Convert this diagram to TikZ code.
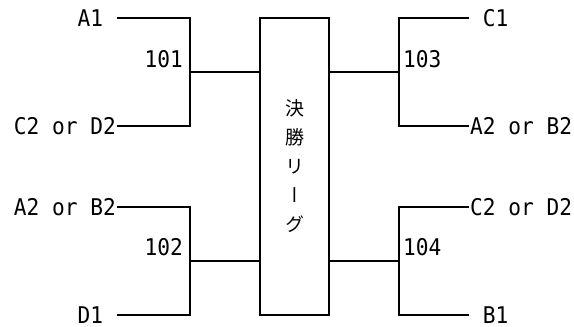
\documentclass[tikz,border=0pt]{standalone}
\usepackage{fontspec}
\newfontfamily\gothicmono[FakeStretch=0.92]{DejaVu Sans Mono}
\newfontfamily\gothicjp[RawFeature=+vert]{Noto Sans CJK JP}
\usetikzlibrary{positioning}
\begin{document}
\begin{tikzpicture}[x=1pt,y=-1pt]
    \tikzstyle{every node} = [font=\gothicmono\fontsize{23}{23}\selectfont]
    \tikzstyle{team} = [inner sep=1pt]
    \tikzstyle{match} = [inner sep=0pt]
    \tikzstyle{league} = [draw, line width=2pt, minimum width=69pt, minimum height=297pt, inner sep=0pt, align=center, font=\gothicjp\fontsize{19}{29}\selectfont]
    \tikzstyle{wire} = [line width=2pt]
    \useasboundingbox (0,0) rectangle (574,327);

    % place nodes
    \node[league] (final) at (294.5,166.5) {決\\勝\\リ\\ー\\グ};

    \coordinate (j101) at (190,72);
    \coordinate (j102) at (190,261);
    \coordinate (j103) at (399,72);
    \coordinate (j104) at (399,261);

    \node[team,anchor=east] (a1) at (117,18) {A1\hphantom{0}};
    \node[team,anchor=east] (c2d2l) at (117,126) {C2 or D2};
    \node[team,anchor=east] (a2b2l) at (117,207) {A2 or B2};
    \node[team,anchor=east] (d1) at (117,315) {D1\hphantom{0}};

    \node[team,anchor=west] (c1) at (469,18) {\hphantom{0}C1};
    \node[team,anchor=west] (a2b2r) at (469,126) {A2 or B2};
    \node[team,anchor=west] (c2d2r) at (469,207) {C2 or D2};
    \node[team,anchor=west] (b1) at (469,315) {\hphantom{0}B1};

    \node[match,above left=4pt and 7pt of j101] (m101) {101};
    \node[match,above left=5pt and 7pt of j102] (m102) {102};
    \node[match,above right=4pt and 4pt of j103] (m103) {103};
    \node[match,above right=5pt and 4pt of j104] (m104) {104};

    % Connections
    \draw[wire] (a1.east) -- (a1 -| j101) -- (c2d2l -| j101) -- (c2d2l.east);
    \draw[wire] (j101) -- (j101 -| final.west);
    \draw[wire] (a2b2l.east) -- (a2b2l -| j102) -- (d1 -| j102) -- (d1.east);
    \draw[wire] (j102) -- (j102 -| final.west);

    \draw[wire] (c1.west) -- (c1 -| j103) -- (a2b2r -| j103) -- (a2b2r.west);
    \draw[wire] (j103) -- (j103 -| final.east);
    \draw[wire] (c2d2r.west) -- (c2d2r -| j104) -- (b1 -| j104) -- (b1.west);
    \draw[wire] (j104) -- (j104 -| final.east);

\end{tikzpicture}
\end{document}
